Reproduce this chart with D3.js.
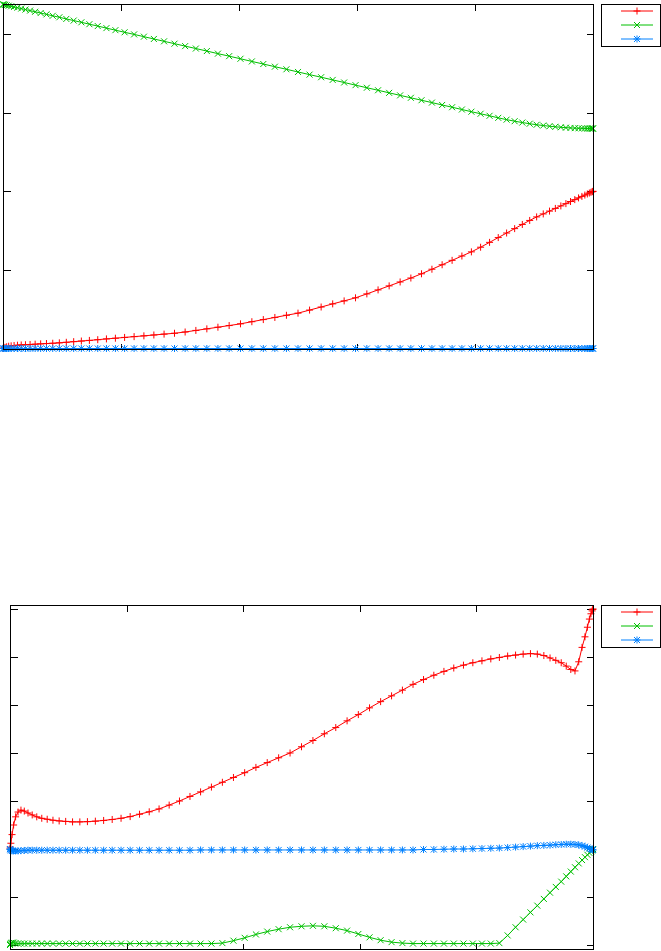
<!DOCTYPE html>
<html>
<head>
<meta charset="utf-8">
<script src="https://cdn.jsdelivr.net/npm/d3@7"></script>
<style>
  html, body { margin: 0; padding: 0; background: #fff; }
  svg { display: block; }
  .frame { fill: none; stroke: #000; stroke-width: 1; shape-rendering: crispEdges; }
  .tick line { stroke: #000; shape-rendering: crispEdges; }
  .series { fill: none; stroke-width: 1; }
  .mark { fill: none; stroke-width: 1; }
</style>
</head>
<body>
<svg id="main" width="661" height="951"></svg>
<script>
var xGrid = [0, 0.0004, 0.0015, 0.0035, 0.0062, 0.0096, 0.0138, 0.0188, 0.0245, 0.0309,
  0.0381, 0.0459, 0.0545, 0.0638, 0.0737, 0.0843, 0.0955, 0.1073, 0.1198, 0.1328,
  0.1464, 0.1606, 0.1753, 0.1905, 0.2061, 0.2222, 0.2388, 0.2557, 0.2730, 0.2907,
  0.3087, 0.3269, 0.3455, 0.3643, 0.3833, 0.4025, 0.4218, 0.4412, 0.4608, 0.4804,
  0.5, 0.5196, 0.5392, 0.5588, 0.5782, 0.5975, 0.6167, 0.6357, 0.6545, 0.6731,
  0.6913, 0.7093, 0.7270, 0.7443, 0.7612, 0.7778, 0.7939, 0.8095, 0.8247, 0.8394,
  0.8536, 0.8672, 0.8802, 0.8927, 0.9045, 0.9157, 0.9263, 0.9362, 0.9455, 0.9541,
  0.9619, 0.9691, 0.9755, 0.9812, 0.9862, 0.9904, 0.9938, 0.9965, 0.9985, 0.9996, 1];

// top panel
var topRed = [0, 0.003, 0.008, 0.015, 0.022, 0.029, 0.034, 0.038, 0.042, 0.045,
  0.048, 0.051, 0.055, 0.059, 0.063, 0.067, 0.072, 0.079, 0.087, 0.095,
  0.103, 0.112, 0.122, 0.131, 0.141, 0.151, 0.161, 0.172, 0.183, 0.194,
  0.210, 0.230, 0.250, 0.271, 0.292, 0.314, 0.341, 0.368, 0.395, 0.423,
  0.450, 0.489, 0.528, 0.568, 0.606, 0.645, 0.695, 0.746, 0.797, 0.847,
  0.897, 0.951, 1.009, 1.066, 1.122, 1.177, 1.230, 1.289, 1.351, 1.412,
  1.470, 1.526, 1.579, 1.630, 1.675, 1.713, 1.749, 1.783, 1.815, 1.844,
  1.871, 1.895, 1.917, 1.936, 1.953, 1.967, 1.979, 1.988, 1.995, 1.999, 2.0];
var topGreen = [4.38, 4.379, 4.377, 4.374, 4.369, 4.363, 4.356, 4.348, 4.338, 4.327,
  4.314, 4.301, 4.286, 4.270, 4.253, 4.235, 4.216, 4.195, 4.174, 4.152,
  4.128, 4.104, 4.078, 4.052, 4.025, 3.998, 3.969, 3.940, 3.910, 3.880,
  3.849, 3.818, 3.786, 3.753, 3.721, 3.688, 3.654, 3.621, 3.587, 3.554,
  3.520, 3.486, 3.453, 3.419, 3.386, 3.352, 3.319, 3.287, 3.254, 3.222,
  3.191, 3.160, 3.130, 3.100, 3.071, 3.042, 3.014, 2.988, 2.962, 2.936,
  2.913, 2.893, 2.876, 2.861, 2.848, 2.838, 2.829, 2.822, 2.816, 2.811,
  2.808, 2.805, 2.803, 2.802, 2.801, 2.800, 2.800, 2.800, 2.800, 2.800, 2.800];
var topBlue = [0, 0, 0, 0, 0, 0, 0, 0, 0, 0,
  0, 0, 0, 0, 0, 0, 0, 0, 0, 0,
  0, 0, 0, 0, 0, 0, 0, 0, 0, 0,
  0, 0, 0, 0, 0, 0, 0, 0, 0, 0,
  0, 0, 0, 0, 0, 0, 0, 0, 0, 0,
  0, 0, 0, 0, 0, 0, 0, 0, 0, 0,
  0, 0, 0, 0, 0, 0, 0, 0, 0, 0,
  0, 0, 0, 0, 0, 0, 0, 0, 0, 0, 0];

// bottom panel
var botRed = [2.0, 2.04, 2.12, 2.30, 2.50, 2.67, 2.77, 2.81, 2.79, 2.75,
  2.71, 2.67, 2.64, 2.62, 2.60, 2.585, 2.575, 2.565, 2.565, 2.57,
  2.58, 2.595, 2.615, 2.64, 2.675, 2.725, 2.775, 2.835, 2.915, 3.0,
  3.095, 3.19, 3.29, 3.39, 3.49, 3.59, 3.70, 3.80, 3.90, 4.0,
  4.13, 4.26, 4.40, 4.53, 4.67, 4.80, 4.94, 5.07, 5.19, 5.31,
  5.43, 5.53, 5.62, 5.70, 5.77, 5.83, 5.88, 5.92, 5.96, 5.99,
  6.02, 6.04, 6.06, 6.07, 6.06, 6.03, 5.98, 5.93, 5.88, 5.81,
  5.74, 5.71, 5.90, 6.20, 6.42, 6.62, 6.79, 6.90, 6.96, 6.99, 7.0];
var botGreen = [0.0, 0.02, 0.04, 0.05, 0.05, 0.04, 0.03, 0.03, 0.03, 0.03,
  0.03, 0.03, 0.03, 0.03, 0.03, 0.03, 0.03, 0.03, 0.03, 0.03,
  0.03, 0.03, 0.03, 0.03, 0.03, 0.03, 0.03, 0.03, 0.03, 0.03,
  0.03, 0.03, 0.03, 0.04, 0.09, 0.15, 0.22, 0.28, 0.33, 0.37,
  0.39, 0.40, 0.39, 0.35, 0.30, 0.23, 0.16, 0.10, 0.06, 0.04,
  0.03, 0.03, 0.03, 0.03, 0.03, 0.03, 0.03, 0.03, 0.03, 0.04,
  0.20, 0.37, 0.53, 0.68, 0.82, 0.96, 1.09, 1.21, 1.32, 1.43,
  1.53, 1.62, 1.70, 1.77, 1.83, 1.88, 1.92, 1.95, 1.97, 1.99, 2.0];
var botBlue = [2.0, 1.99, 1.97, 1.96, 1.96, 1.96, 1.96, 1.965, 1.97, 1.975,
  1.975, 1.975, 1.975, 1.975, 1.975, 1.975, 1.975, 1.975, 1.975, 1.975,
  1.975, 1.975, 1.975, 1.975, 1.975, 1.975, 1.975, 1.975, 1.975, 1.975,
  1.975, 1.98, 1.98, 1.98, 1.98, 1.98, 1.98, 1.98, 1.98, 1.98,
  1.98, 1.98, 1.98, 1.98, 1.98, 1.98, 1.98, 1.98, 1.98, 1.98,
  1.98, 1.99, 1.99, 1.995, 2.0, 2.0, 2.005, 2.01, 2.015, 2.02,
  2.03, 2.04, 2.05, 2.06, 2.07, 2.075, 2.08, 2.09, 2.095, 2.10,
  2.10, 2.095, 2.085, 2.07, 2.05, 2.03, 2.01, 2.0, 1.99, 1.985, 1.98];

var xTicks = [0.2, 0.4, 0.6, 0.8];
var topYTicks = [1, 2, 3, 4];
var botYTicks = [0, 1, 2, 3, 4, 5, 6, 7];

var colors = ['#ff0000', '#00c000', '#0080ff'];
var shapes = ['plus', 'cross', 'star'];

var svg = d3.select('#main');

var panels = [
  {box: {l: 3, r: 593, t: 4, b: 348.5}, yDomain: [0, 4.385], yTicks: topYTicks,
   series: [topRed, topGreen, topBlue], legend: {x: 601, y: 4}},
  {box: {l: 10, r: 593, t: 605, b: 949}, yDomain: [-0.083, 7.083], yTicks: botYTicks,
   series: [botRed, botGreen, botBlue], legend: {x: 601, y: 605}}
];

function markerPath(shape) {
  var p = 3.5, c = 3;
  var plus = `M${-p},0H${p}M0,${-p}V${p}`;
  var cross = `M${-c},${-c}L${c},${c}M${-c},${c}L${c},${-c}`;
  if (shape === 'plus') return plus;
  if (shape === 'cross') return cross;
  return plus + cross;
}

function drawPanel(p) {
  var g = svg.append('g');
  var x = d3.scaleLinear().domain([0, 1]).range([p.box.l, p.box.r]);
  var y = d3.scaleLinear().domain(p.yDomain).range([p.box.b, p.box.t]);
  var w = p.box.r - p.box.l;
  var h = p.box.b - p.box.t;

  // inward ticks on all four sides, no labels
  var tickLen = 7;
  var axes = [
    {ax: d3.axisLeft(y).tickValues(p.yTicks), tr: `translate(${p.box.l + 0.5},0)`, len: -tickLen},
    {ax: d3.axisRight(y).tickValues(p.yTicks), tr: `translate(${p.box.r + 0.5},0)`, len: -tickLen},
    {ax: d3.axisBottom(x).tickValues(xTicks), tr: `translate(0,${Math.round(p.box.b) + 0.5})`, len: -6},
    {ax: d3.axisTop(x).tickValues(xTicks), tr: `translate(0,${p.box.t + 0.5})`, len: -6}
  ];
  axes.forEach(function(a) {
    var ag = g.append('g')
      .attr('transform', a.tr)
      .call(a.ax.tickSizeInner(a.len).tickSizeOuter(0).tickFormat(function() { return ''; }));
    ag.select('.domain').remove();
    ag.selectAll('text').remove();
  });

  p.series.forEach(function(vals, k) {
    var pts = vals.map(function(v, i) { return [xGrid[i], v]; });
    var line = d3.line()
      .x(function(d) { return x(d[0]); })
      .y(function(d) { return y(d[1]); });
    g.append('path')
      .attr('class', 'series')
      .attr('d', line(pts))
      .attr('stroke', colors[k]);
    g.append('g').selectAll('path')
      .data(pts)
      .enter()
      .append('path')
      .attr('class', 'mark')
      .attr('transform', function(d) { return `translate(${x(d[0])},${y(d[1])})`; })
      .attr('d', markerPath(shapes[k]))
      .attr('stroke', colors[k]);
  });

  g.append('rect')
    .attr('class', 'frame')
    .attr('x', p.box.l + 0.5)
    .attr('y', p.box.t + 0.5)
    .attr('width', w)
    .attr('height', Math.round(h));

  // legend box with empty titles
  var lg = g.append('g').attr('transform', `translate(${p.legend.x},${p.legend.y})`);
  lg.append('rect')
    .attr('class', 'frame')
    .attr('x', 0.5).attr('y', 0.5)
    .attr('width', 59).attr('height', 42);
  colors.forEach(function(c, k) {
    var ly = 7 + k * 14;
    lg.append('line')
      .attr('x1', 20).attr('x2', 52)
      .attr('y1', ly).attr('y2', ly)
      .attr('stroke', c).attr('stroke-width', 1);
    lg.append('path')
      .attr('class', 'mark')
      .attr('transform', `translate(36,${ly})`)
      .attr('d', markerPath(shapes[k]))
      .attr('stroke', c);
  });
}

panels.forEach(drawPanel);
</script>
</body>
</html>
